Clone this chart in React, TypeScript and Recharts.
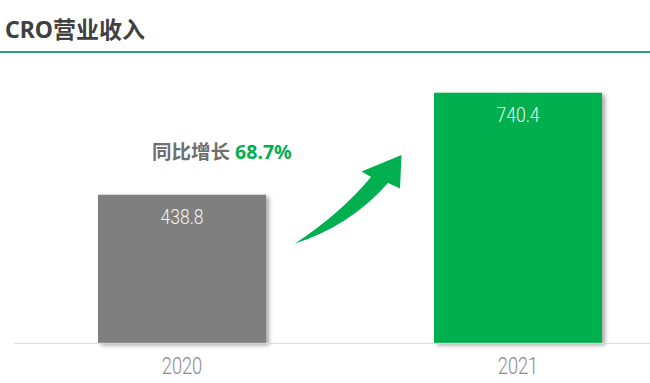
import React from 'react';
import { BarChart, Bar, XAxis, YAxis, Cell, LabelList } from 'recharts';

// CRO revenue by year
const years: string[] = ['2020', '2021'];
const revenue: number[] = [438.8, 740.4];
const barColors: string[] = ['#7f7f7f', '#00b050'];
const growthLabel = '同比增长';
const growthValue = '68.7%';

const data = years.map((year, i) => ({ year, revenue: revenue[i] }));

const YearTick = (props: any) => {
  const { x, y, payload } = props;
  return (
    <g transform={`translate(${x},${y + 31}) scale(0.76,1)`}>
      <text
        textAnchor="middle"
        fill="#8a8a8a"
        fontSize={24}
        fontWeight={300}
        fontFamily="Roboto, sans-serif"
      >
        {payload.value}
      </text>
    </g>
  );
};

const ValueLabel = (props: any) => {
  const { x, y, width, value } = props;
  return (
    <g transform={`translate(${x + width / 2},${y + 29}) scale(0.88,1)`}>
      <text
        textAnchor="middle"
        fill="#f2f2f2"
        fontSize={20}
        fontWeight={300}
        fontFamily="Roboto, sans-serif"
      >
        {value}
      </text>
    </g>
  );
};

const App: React.FC = () => {
  return (
    <div
      style={{
        position: 'absolute',
        left: 0,
        top: 0,
        width: 650,
        height: 383,
        overflow: 'hidden',
        background: '#ffffff',
        fontFamily: '"Noto Sans", "Noto Sans CJK SC", sans-serif',
      }}
    >
      <div
        style={{
          position: 'absolute',
          left: 5,
          top: 13,
          fontSize: 23,
          fontWeight: 700,
          color: '#404040',
          lineHeight: '32px',
          whiteSpace: 'nowrap',
        }}
      >
        CRO营业收入
      </div>
      <div
        style={{
          position: 'absolute',
          left: 0,
          top: 51,
          width: 650,
          height: 2,
          background: '#2b9f7e',
        }}
      />

      <div style={{ position: 'absolute', left: 0, top: 0 }}>
        <BarChart
          width={700}
          height={383}
          data={data}
          margin={{ top: 72.5, right: 14, bottom: 0, left: 14 }}
          barCategoryGap={84}
        >
          <defs>
            <filter id="barShadow" x="-10%" y="-10%" width="130%" height="130%">
              <feDropShadow dx={3} dy={2} stdDeviation={2} floodColor="#000" floodOpacity={0.35} />
            </filter>
          </defs>
          <XAxis
            dataKey="year"
            axisLine={{ stroke: '#d9d9d9', strokeWidth: 1 }}
            tickLine={false}
            tickSize={0}
            tickMargin={0}
            height={39.7}
            tick={<YearTick />}
            interval={0}
          />
          <YAxis hide domain={[0, 800]} />
          <Bar
            dataKey="revenue"
            barSize={168}
            isAnimationActive={false}
            style={{ filter: 'url(#barShadow)' }}
          >
            {data.map((d, i) => (
              <Cell key={d.year} fill={barColors[i]} />
            ))}
            <LabelList dataKey="revenue" content={<ValueLabel />} />
          </Bar>
        </BarChart>
      </div>

      <svg
        width={650}
        height={383}
        style={{ position: 'absolute', left: 0, top: 0, pointerEvents: 'none' }}
      >
        <path
          d="M 295 243.5 Q 340 214 371 177 L 361.5 171.5 L 401.5 155 L 400 188.5 L 388 183 Q 350 226 295 243.5 Z"
          fill="#00b050"
        />
        <text x={152} y={158.5} fontSize={19.5} fontWeight={700}>
          <tspan fill="#6f6f6f">{growthLabel} </tspan>
          <tspan fill="#00b050">{growthValue}</tspan>
        </text>
      </svg>
    </div>
  );
};

export default App;
